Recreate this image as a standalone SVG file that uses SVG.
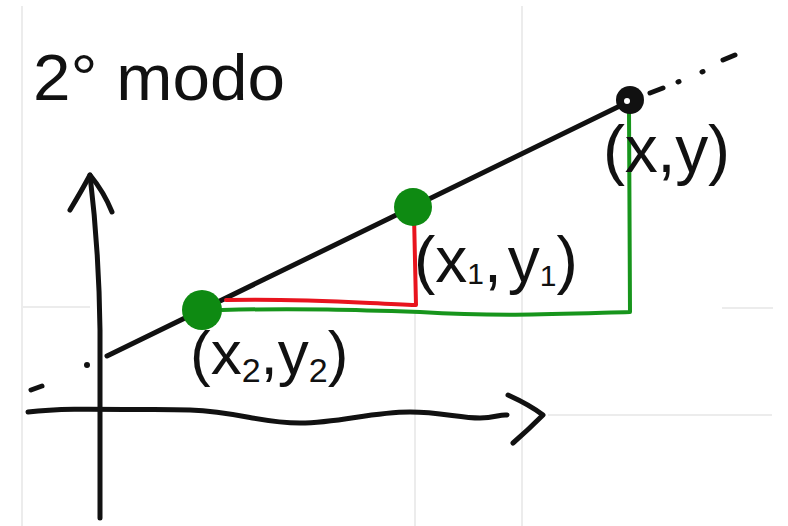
<svg xmlns="http://www.w3.org/2000/svg" width="788" height="526" viewBox="0 0 788 526">
<style>
.grid{stroke:#ececec;stroke-width:2;fill:none}
.ink{stroke:#111;stroke-width:5;fill:none;stroke-linecap:round;stroke-linejoin:round}
.red{stroke:#e8141e;stroke-width:4;fill:none;stroke-linecap:round;stroke-linejoin:round}
.grn{stroke:#17951c;stroke-width:4;fill:none;stroke-linecap:round;stroke-linejoin:round}
.dot{fill:#0e8a12}
.lbl{font-family:"Liberation Sans",Arial,sans-serif;fill:#111}
</style>
<rect width="788" height="526" fill="#ffffff"/>
<g id="grid">
<path class="grid" stroke="#f1e6ea" d="M22,6 V526"/>
<path class="grid" d="M22,307 H90"/>
<path class="grid" d="M415,310 V526"/>
<path class="grid" d="M522,6 V526"/>
<path class="grid" d="M548,415 H772"/>
<path class="grid" d="M722,308 H773"/>
</g>
<g id="title">
<text class="lbl" x="33" y="100" font-size="64" textLength="252" lengthAdjust="spacingAndGlyphs">2° modo</text>
</g>
<g id="axes">
<path class="ink" d="M100,518 L100,330 Q99,250 90,175"/>
<path class="ink" d="M70,210 Q82,190 90,175 Q104,192 112,212"/>
<path class="ink" d="M28,412 C60,408 90,409 190,410 C240,412 260,423 300,423 C340,423 370,412 410,412 C440,412 460,418 480,418 C495,418 500,414 507,415"/>
<path class="ink" d="M508,395 Q530,405 543,415 Q528,430 513,443"/>
<circle cx="87" cy="365" r="3" fill="#111"/>
<path class="ink" d="M31,390 L42,386"/>
</g>
<g id="connectors">
<path class="ink" d="M107,356 L628,102"/>
<path class="ink" d="M650,93 L663,88 M678,82 L679,81.5 M702,72 L703,71.5 M723,60 L735,55"/>
<path class="grn" d="M222,310 C300,308 360,310 420,312 C500,317 560,314 630,312 L629,110"/>
<path class="red" d="M226,300 C300,298 360,303 416,305 L414,215"/>
</g>
<g id="point-x2y2">
<circle class="dot" cx="202" cy="310" r="20"/>
<text class="lbl" x="190" y="374" font-size="62">(<tspan>x</tspan><tspan font-size="34" dy="8">2</tspan><tspan dy="-8">,</tspan><tspan>y</tspan><tspan font-size="34" dy="8">2</tspan><tspan dy="-8">)</tspan></text>
</g>
<g id="point-x1y1">
<circle class="dot" cx="413" cy="207" r="19"/>
<text class="lbl" x="414" y="282" font-size="64">(<tspan>x</tspan><tspan font-size="30" dy="2">1</tspan><tspan dy="-2">,</tspan><tspan dx="6">y</tspan><tspan font-size="30" dy="4">1</tspan><tspan dy="-4">)</tspan></text>
</g>
<g id="point-xy">
<circle cx="630" cy="100" r="14" fill="#111"/>
<circle cx="627" cy="101" r="3" fill="#fff"/>
<text class="lbl" x="603" y="172" font-size="66" textLength="127" lengthAdjust="spacing">(x,y)</text>
</g>
</svg>
